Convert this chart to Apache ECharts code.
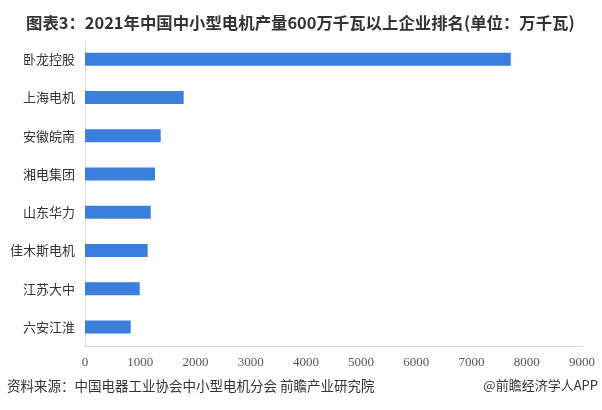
<!DOCTYPE html>
<html><head><meta charset="utf-8">
<script src="https://cdn.jsdelivr.net/npm/echarts@6/dist/echarts.min.js"></script>
<style>html,body{margin:0;padding:0;background:#fff}#c{width:602px;height:410px}</style>
</head><body><div id="c"></div>
<script>
const categories = ['卧龙控股','上海电机','安徽皖南','湘电集团','山东华力','佳木斯电机','江苏大中','六安江淮'];
const values = [7710, 1787, 1371, 1268, 1190, 1135, 991, 828];
const xTicks = {min: 0, max: 9000, interval: 1000};
const titleText = '图表3：2021年中国中小型电机产量600万千瓦以上企业排名(单位：万千瓦)';
const sourceText = '资料来源：中国电器工业协会中小型电机分会 前瞻产业研究院';
const brandText = '@前瞻经济学人APP';

const chart = echarts.init(document.getElementById('c'), null, {renderer: 'canvas'});
chart.setOption({
  backgroundColor: '#fff',
  animation: false,
  title: [{
    text: titleText, left: 21, top: 10,
    textStyle: {fontSize: 16.4, fontWeight: 'bold', color: '#333', fontFamily: 'Noto Sans CJK SC'}
  }],
  graphic: [
    {type: 'text', left: 7, top: 379, style: {text: sourceText, font: '13.5px "Noto Sans CJK SC"', fill: '#333'}},
    {type: 'text', right: 4, top: 379, style: {text: brandText, font: '13px "Noto Sans CJK SC"', fill: '#333'}}
  ],
  grid: {left: 85, right: 20, top: 40, bottom: 64, containLabel: false},
  xAxis: {
    type: 'value', min: xTicks.min, max: xTicks.max, interval: xTicks.interval,
    axisLine: {show: true, lineStyle: {color: '#d9d9d9'}},
    axisTick: {show: false},
    splitLine: {show: false},
    axisLabel: {color: '#555', fontSize: 13, fontFamily: 'Liberation Serif', margin: 10,
      formatter: v => String(v)}
  },
  yAxis: {
    type: 'category', data: categories, inverse: true,
    axisLine: {show: true, lineStyle: {color: '#d9d9d9'}},
    axisTick: {show: false},
    axisLabel: {color: '#333', fontSize: 13, fontFamily: 'Noto Sans CJK SC', margin: 10}
  },
  series: [{
    type: 'bar', data: values, barWidth: 13,
    itemStyle: {color: '#3a7fdb'}
  }]
});
</script></body></html>
